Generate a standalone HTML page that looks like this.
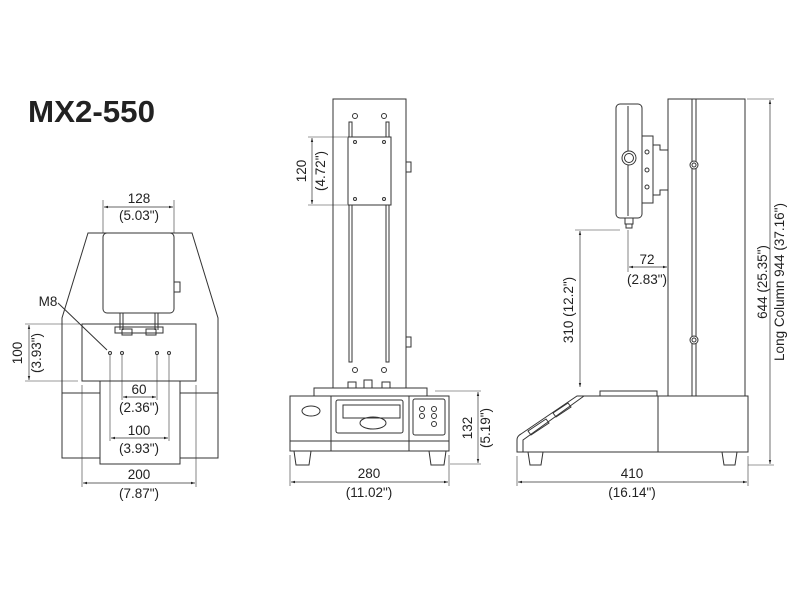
<!DOCTYPE html>
<html><head><style>
html,body{margin:0;padding:0;background:#fff;}
svg{display:block;}
text{font-family:"Liberation Sans",sans-serif;fill:#222;}
</style></head><body>
<svg width="800" height="600" viewBox="0 0 800 600" xmlns="http://www.w3.org/2000/svg">
<defs>
<marker id="a" viewBox="0 0 10 10" refX="10" refY="5" markerWidth="6" markerHeight="6" orient="auto-start-reverse"><path d="M0,2 L10,5 L0,8 z" fill="#222"/></marker>
</defs>
<text x="28" y="122" font-size="31" font-weight="bold" textLength="127" lengthAdjust="spacingAndGlyphs">MX2-550</text>

<g fill="none" stroke="#333" stroke-width="1">
<!-- LEFT VIEW -->
<path d="M88,233 L192,233 L218,318 L218,458 L62,458 L62,318 Z"/>
<line x1="62" y1="393" x2="218" y2="393"/>
<rect x="103" y="233" width="71" height="80" rx="4" fill="#fff"/>
<rect x="174" y="282" width="6" height="10"/>
<rect x="82" y="324" width="114" height="57" fill="#fff"/>
<rect x="100" y="381" width="80" height="83" fill="#fff"/>
<line x1="120" y1="313" x2="120" y2="330"/><line x1="123" y1="313" x2="123" y2="330"/>
<line x1="155" y1="313" x2="155" y2="330"/><line x1="158" y1="313" x2="158" y2="330"/>
<rect x="115" y="327" width="48" height="6"/>
<rect x="122" y="329" width="10" height="6"/><rect x="146" y="329" width="10" height="6"/>
<circle cx="110" cy="353" r="1.5"/><circle cx="122" cy="353" r="1.5"/>
<circle cx="157" cy="353" r="1.5"/><circle cx="169" cy="353" r="1.5"/>
<line x1="58" y1="303" x2="107" y2="350"/>
<!-- dims -->
<line x1="103" y1="200" x2="103" y2="233" stroke-width="0.6"/><line x1="174" y1="200" x2="174" y2="233" stroke-width="0.6"/>
<line x1="104" y1="207" x2="173" y2="207" marker-start="url(#a)" marker-end="url(#a)" stroke-width="0.7"/>
<line x1="25" y1="324" x2="80" y2="324" stroke-width="0.6"/><line x1="25" y1="381" x2="78" y2="381" stroke-width="0.6"/>
<line x1="29" y1="325" x2="29" y2="380" marker-start="url(#a)" marker-end="url(#a)" stroke-width="0.7"/>
<line x1="122" y1="355" x2="122" y2="400" stroke-width="0.6"/><line x1="157" y1="355" x2="157" y2="400" stroke-width="0.6"/>
<line x1="123" y1="397" x2="156" y2="397" marker-start="url(#a)" marker-end="url(#a)" stroke-width="0.7"/>
<line x1="110" y1="355" x2="110" y2="441" stroke-width="0.6"/><line x1="169" y1="355" x2="169" y2="441" stroke-width="0.6"/>
<line x1="111" y1="438" x2="168" y2="438" marker-start="url(#a)" marker-end="url(#a)" stroke-width="0.7"/>
<line x1="82" y1="385" x2="82" y2="487" stroke-width="0.6"/><line x1="196" y1="385" x2="196" y2="487" stroke-width="0.6"/>
<line x1="83" y1="483" x2="195" y2="483" marker-start="url(#a)" marker-end="url(#a)" stroke-width="0.7"/>

<!-- MIDDLE VIEW -->
<rect x="333" y="99" width="73" height="293"/>
<rect x="349" y="122" width="3" height="240"/><rect x="386" y="122" width="3" height="240"/>
<rect x="348" y="137" width="43" height="68" fill="#fff"/>
<circle cx="355" cy="116" r="2.5"/><circle cx="384" cy="116" r="2.5"/>
<circle cx="355" cy="142" r="1.5"/><circle cx="384" cy="142" r="1.5"/>
<circle cx="355" cy="199" r="1.5"/><circle cx="384" cy="199" r="1.5"/>
<circle cx="355" cy="370" r="2.5"/><circle cx="384" cy="370" r="2.5"/>
<rect x="406" y="162" width="5" height="10"/><rect x="406" y="337" width="5" height="10"/>
<rect x="348" y="382" width="8" height="7"/><rect x="364" y="380" width="8" height="9"/><rect x="382" y="382" width="8" height="7"/>
<rect x="314" y="388" width="113" height="8" fill="#fff"/>
<rect x="290" y="396" width="159" height="55" fill="#fff"/>
<line x1="331" y1="396" x2="331" y2="451"/><line x1="409" y1="396" x2="409" y2="451"/>
<line x1="290" y1="441" x2="449" y2="441"/>
<rect x="336" y="400" width="67" height="33" rx="2"/>
<rect x="343" y="405" width="57" height="13"/>
<ellipse cx="373" cy="423" rx="13" ry="6"/>
<ellipse cx="311" cy="411" rx="9" ry="5"/>
<rect x="413" y="399" width="32" height="36" rx="2"/>
<circle cx="422" cy="409" r="2.5"/><circle cx="434" cy="409" r="2.5"/>
<circle cx="422" cy="416" r="2.5"/><circle cx="434" cy="416" r="2.5"/>
<circle cx="434" cy="424" r="2.5"/>
<path d="M294,451 L296,465 L309,465 L311,451"/><path d="M429,451 L431,465 L444,465 L446,451"/>
<!-- dims -->
<line x1="308" y1="137" x2="347" y2="137" stroke-width="0.6"/><line x1="308" y1="205" x2="347" y2="205" stroke-width="0.6"/>
<line x1="312" y1="138" x2="312" y2="204" marker-start="url(#a)" marker-end="url(#a)" stroke-width="0.7"/>
<line x1="435" y1="391" x2="481" y2="391" stroke-width="0.6"/><line x1="450" y1="464" x2="481" y2="464" stroke-width="0.6"/>
<line x1="478" y1="392" x2="478" y2="463" marker-start="url(#a)" marker-end="url(#a)" stroke-width="0.7"/>
<line x1="290" y1="455" x2="290" y2="486" stroke-width="0.6"/><line x1="449" y1="455" x2="449" y2="486" stroke-width="0.6"/>
<line x1="291" y1="482" x2="448" y2="482" marker-start="url(#a)" marker-end="url(#a)" stroke-width="0.7"/>

<!-- RIGHT VIEW -->
<rect x="668" y="99" width="77" height="297"/>
<rect x="692" y="99" width="4" height="297"/>
<circle cx="694" cy="165" r="4" fill="#fff"/><circle cx="694" cy="165" r="2"/>
<circle cx="694" cy="340" r="4" fill="#fff"/><circle cx="694" cy="340" r="2"/>
<rect x="616" y="104" width="26" height="114" rx="4"/>
<line x1="628" y1="106" x2="628" y2="216"/>
<circle cx="629" cy="158" r="7" fill="#fff"/><circle cx="629" cy="158" r="4.5"/>
<rect x="642" y="136" width="11" height="67"/>
<path d="M653,145 L660,145 L660,150 L668,150 M668,190 L660,190 L660,195 L653,195"/>
<circle cx="647" cy="152" r="2"/><circle cx="647" cy="170" r="2"/><circle cx="647" cy="187" r="2"/>
<rect x="625" y="218" width="8" height="6"/><rect x="626" y="224" width="6" height="4"/>
<rect x="600" y="391" width="57" height="5"/>
<path d="M517,452 L517,440 Q517,436 521,434 L577,396 L748,396 L748,452 Z" fill="#fff"/>
<path d="M523,452 L523,440 L584,396"/>
<line x1="658" y1="396" x2="658" y2="452"/>
<path d="M528,431 L546,419 L549,423 L531,435 Z"/>
<path d="M553,413 L568,403 L571,407 L556,417 Z"/>
<path d="M528,452 L530,465 L541,465 L543,452"/><path d="M722,452 L724,465 L735,465 L737,452"/>
<!-- dims -->
<line x1="628" y1="230" x2="628" y2="272" stroke-width="0.6"/>
<line x1="629" y1="267" x2="667" y2="267" marker-start="url(#a)" marker-end="url(#a)" stroke-width="0.7"/>
<line x1="575" y1="230" x2="620" y2="230" stroke-width="0.6"/>
<line x1="580" y1="231" x2="580" y2="387" marker-start="url(#a)" marker-end="url(#a)" stroke-width="0.7"/>
<line x1="747" y1="99" x2="774" y2="99" stroke-width="0.6"/><line x1="748" y1="465" x2="774" y2="465" stroke-width="0.6"/>
<line x1="770" y1="100" x2="770" y2="464" marker-start="url(#a)" marker-end="url(#a)" stroke-width="0.7"/>
<line x1="517" y1="456" x2="517" y2="486" stroke-width="0.6"/><line x1="748" y1="456" x2="748" y2="486" stroke-width="0.6"/>
<line x1="518" y1="482" x2="747" y2="482" marker-start="url(#a)" marker-end="url(#a)" stroke-width="0.7"/>
</g>

<g font-size="13.5" text-anchor="middle">
<text x="139" y="203">128</text><text x="139" y="220">(5.03")</text>
<text x="48" y="306">M8</text>
<text x="139" y="394">60</text><text x="139" y="412">(2.36")</text>
<text x="139" y="435">100</text><text x="139" y="453">(3.93")</text>
<text x="139" y="479">200</text><text x="139" y="498">(7.87")</text>
<text transform="translate(22,353) rotate(-90)">100</text>
<text transform="translate(41,353) rotate(-90)">(3.93")</text>
<text transform="translate(306,171) rotate(-90)">120</text>
<text transform="translate(325,171) rotate(-90)">(4.72")</text>
<text transform="translate(472,428) rotate(-90)">132</text>
<text transform="translate(490,428) rotate(-90)">(5.19")</text>
<text x="369" y="478">280</text><text x="369" y="497">(11.02")</text>
<text x="647" y="264">72</text><text x="647" y="284">(2.83")</text>
<text transform="translate(573,310) rotate(-90)">310 (12.2")</text>
<text transform="translate(767,282) rotate(-90)">644 (25.35")</text>
<text transform="translate(784,282) rotate(-90)">Long Column 944 (37.16")</text>
<text x="632" y="478">410</text><text x="632" y="497">(16.14")</text>
</g>
</svg>
</body></html>
